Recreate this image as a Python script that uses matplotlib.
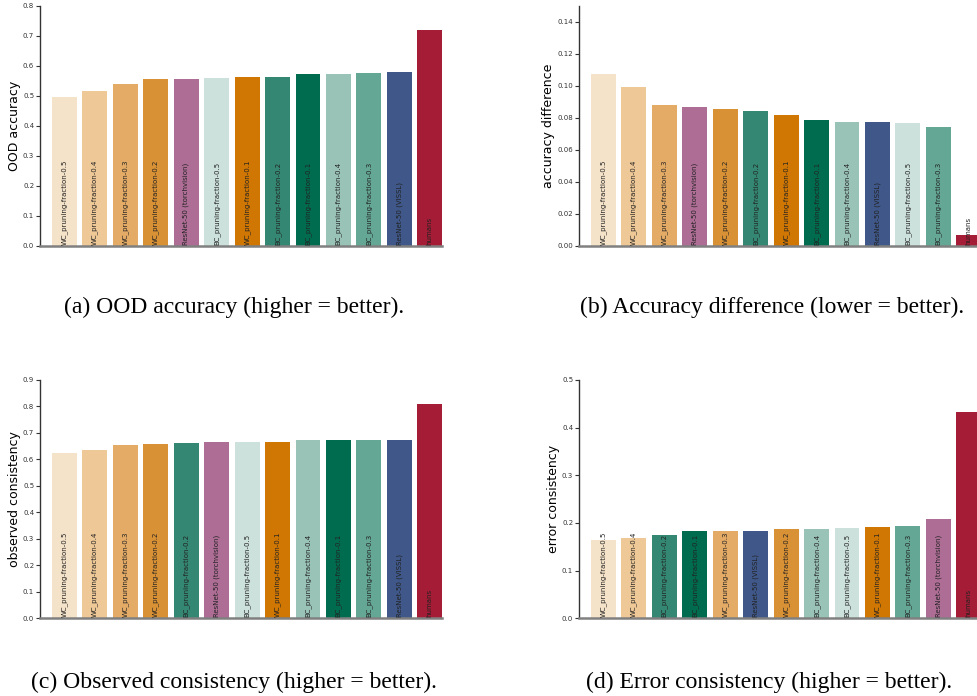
import numpy as np
import matplotlib.pyplot as plt

# model colours
colors = {
    'WC_pruning-fraction-0.5': '#f5e3c9',
    'WC_pruning-fraction-0.4': '#eec897',
    'WC_pruning-fraction-0.3': '#e4ab66',
    'WC_pruning-fraction-0.2': '#d99135',
    'WC_pruning-fraction-0.1': '#d07703',
    'BC_pruning-fraction-0.5': '#cde1dc',
    'BC_pruning-fraction-0.4': '#9ac3b8',
    'BC_pruning-fraction-0.3': '#64a794',
    'BC_pruning-fraction-0.2': '#348873',
    'BC_pruning-fraction-0.1': '#006c4f',
    'ResNet-50 (torchvision)': '#ae6d95',
    'ResNet-50 (VISSL)': '#3f5889',
    'humans': '#a51c36',
}

# (a) OOD accuracy
ood_models = ['WC_pruning-fraction-0.5', 'WC_pruning-fraction-0.4', 'WC_pruning-fraction-0.3',
              'WC_pruning-fraction-0.2', 'ResNet-50 (torchvision)', 'BC_pruning-fraction-0.5',
              'WC_pruning-fraction-0.1', 'BC_pruning-fraction-0.2', 'BC_pruning-fraction-0.1',
              'BC_pruning-fraction-0.4', 'BC_pruning-fraction-0.3', 'ResNet-50 (VISSL)', 'humans']
ood_values = [0.496, 0.516, 0.540, 0.556, 0.556, 0.560, 0.563, 0.563, 0.573, 0.573, 0.576, 0.580, 0.720]

# (b) accuracy difference
diff_models = ['WC_pruning-fraction-0.5', 'WC_pruning-fraction-0.4', 'WC_pruning-fraction-0.3',
               'ResNet-50 (torchvision)', 'WC_pruning-fraction-0.2', 'BC_pruning-fraction-0.2',
               'WC_pruning-fraction-0.1', 'BC_pruning-fraction-0.1', 'BC_pruning-fraction-0.4',
               'ResNet-50 (VISSL)', 'BC_pruning-fraction-0.5', 'BC_pruning-fraction-0.3', 'humans']
diff_values = [0.1076, 0.0995, 0.0882, 0.0869, 0.0857, 0.0844, 0.0819, 0.0788, 0.0775, 0.0775,
               0.0769, 0.0744, 0.0067]

# (c) observed consistency
obs_models = ['WC_pruning-fraction-0.5', 'WC_pruning-fraction-0.4', 'WC_pruning-fraction-0.3',
              'WC_pruning-fraction-0.2', 'BC_pruning-fraction-0.2', 'ResNet-50 (torchvision)',
              'BC_pruning-fraction-0.5', 'WC_pruning-fraction-0.1', 'BC_pruning-fraction-0.4',
              'BC_pruning-fraction-0.1', 'BC_pruning-fraction-0.3', 'ResNet-50 (VISSL)', 'humans']
obs_values = [0.624, 0.636, 0.655, 0.658, 0.662, 0.666, 0.666, 0.666, 0.673, 0.673, 0.673, 0.673, 0.809]

# (d) error consistency
err_models = ['WC_pruning-fraction-0.5', 'WC_pruning-fraction-0.4', 'BC_pruning-fraction-0.2',
              'BC_pruning-fraction-0.1', 'WC_pruning-fraction-0.3', 'ResNet-50 (VISSL)',
              'WC_pruning-fraction-0.2', 'BC_pruning-fraction-0.4', 'BC_pruning-fraction-0.5',
              'WC_pruning-fraction-0.1', 'BC_pruning-fraction-0.3', 'ResNet-50 (torchvision)', 'humans']
err_values = [0.164, 0.1685, 0.175, 0.183, 0.183, 0.183, 0.1875, 0.1875, 0.1895, 0.1915, 0.1935,
              0.2085, 0.433]

panels = [
    (ood_models, ood_values, 'OOD accuracy', 0.8, 0.1, '(a) OOD accuracy (higher = better).'),
    (diff_models, diff_values, 'accuracy difference', 0.15, 0.02, '(b) Accuracy difference (lower = better).'),
    (obs_models, obs_values, 'observed consistency', 0.9, 0.1, '(c) Observed consistency (higher = better).'),
    (err_models, err_values, 'error consistency', 0.5, 0.1, '(d) Error consistency (higher = better).'),
]

W, H = 977, 696
fig = plt.figure(figsize=(W / 100, H / 100), dpi=100)

# axes rectangles in pixels: left, top, width, height
rects = [(40, 6, 402, 239.7), (579, 6, 402, 239.7), (40, 380, 402, 238.3), (579, 380, 402, 238.3)]
cap_pos = [(234, 307), (772, 307), (234, 682), (769, 682)]

for (models, values, ylab, ymax, ystep, caption), (l, t, w, h), (cx, cy) in zip(panels, rects, cap_pos):
    ax = fig.add_axes([l / W, 1 - (t + h) / H, w / W, h / H])
    x = np.arange(len(models))
    ax.bar(x, values, width=0.82, color=[colors[m] for m in models])
    for xi, m in zip(x, models):
        ax.text(xi, ymax * 0.004, m, rotation=90, ha='center', va='bottom', fontsize=5, color='#222222')
    ax.set_xlim(-0.8, 12.4)
    ax.set_ylim(0, ymax)
    ticks = np.arange(0, ymax + 1e-9, ystep)
    ax.set_yticks(ticks)
    ax.set_yticklabels([('%.2f' if ystep < 0.1 else '%.1f') % v for v in ticks])
    ax.set_xticks([])
    ax.tick_params(axis='y', labelsize=5, labelcolor='#333333', length=3, width=0.8, color='#333333', pad=1.2)
    ax.spines['top'].set_visible(False)
    ax.spines['right'].set_visible(False)
    ax.spines['left'].set_color('#333333')
    ax.spines['left'].set_linewidth(1.0)
    ax.spines['bottom'].set_color('#808080')
    ax.spines['bottom'].set_linewidth(1.8)
    ax.set_ylabel(ylab, fontsize=9, labelpad=1.5)
    fig.text(cx / W, 1 - cy / H, caption, ha='center', va='center', fontsize=17,
             family='Liberation Serif')

plt.savefig('out.png', dpi=100)
